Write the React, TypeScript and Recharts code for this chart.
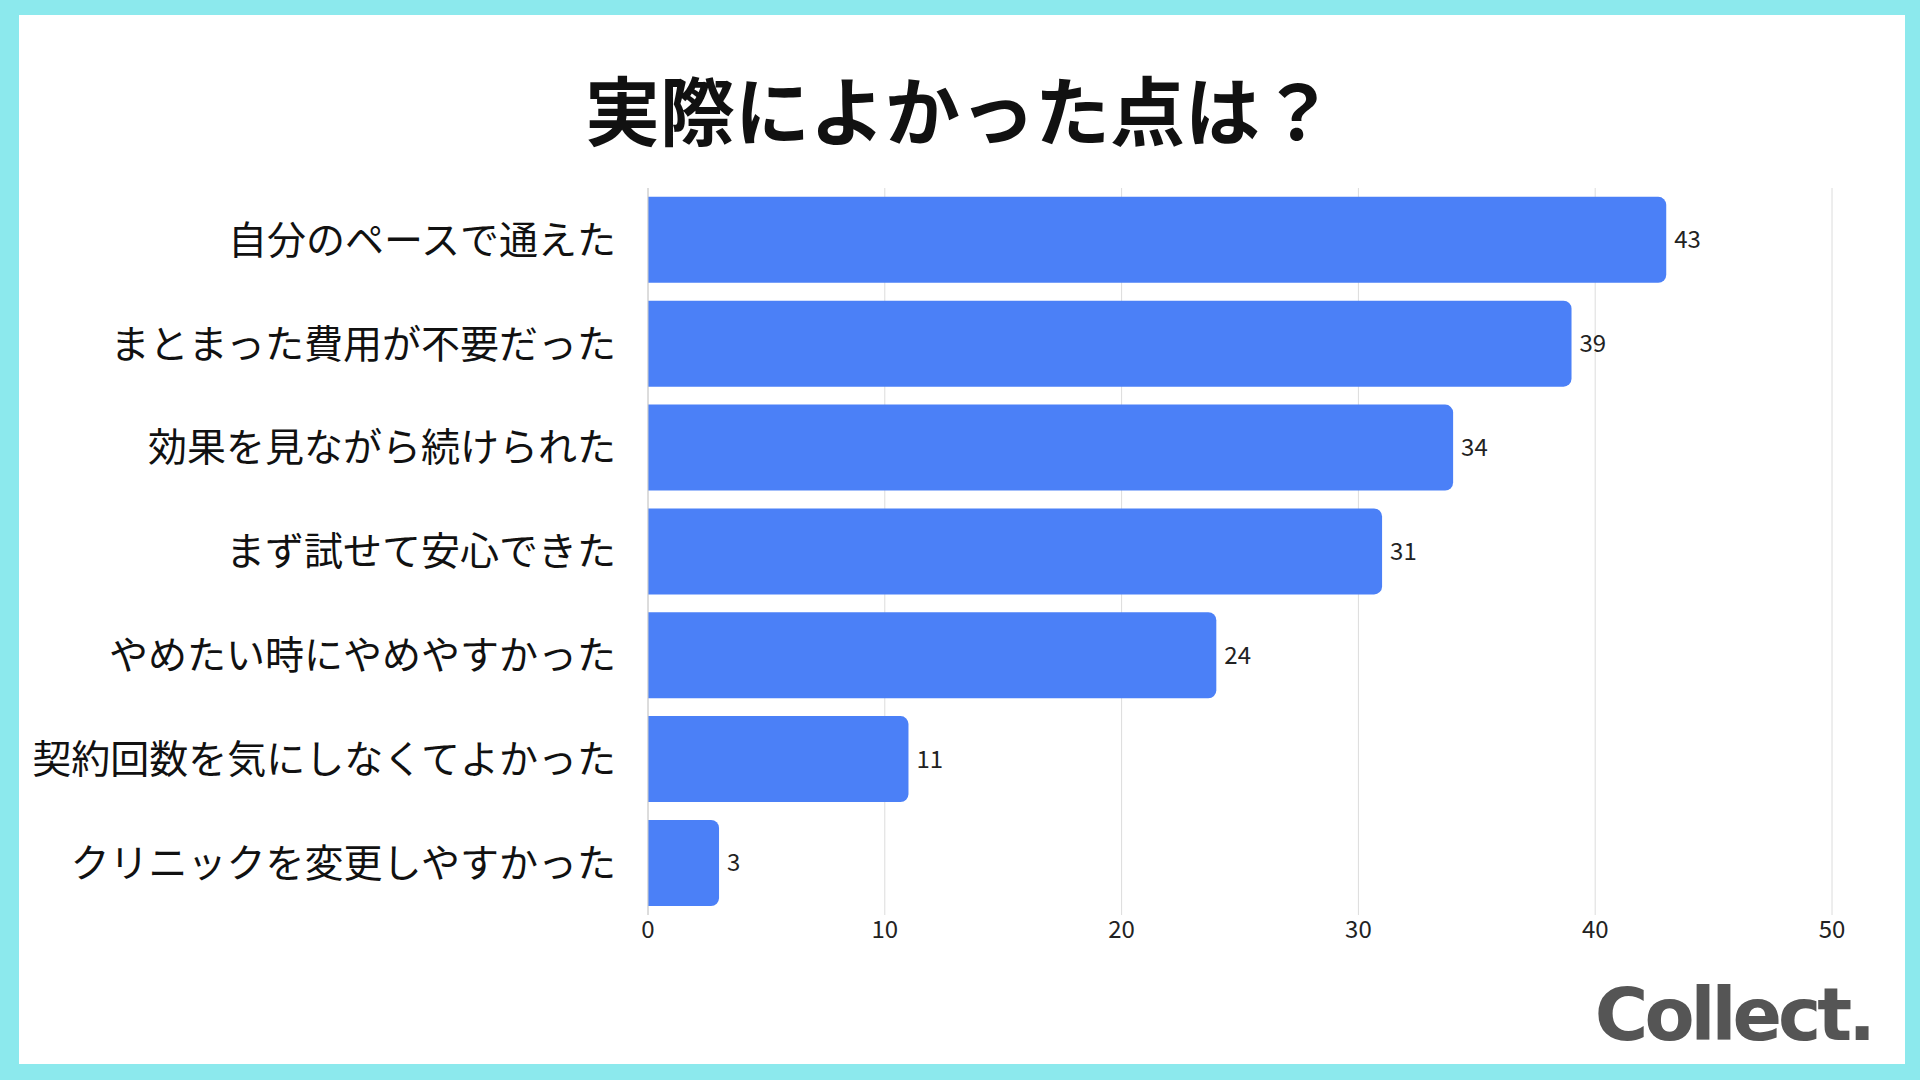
import { Bar, BarChart, CartesianGrid, LabelList, XAxis, YAxis } from "recharts";

const CYAN = "#8ce9ed";
const BLUE = "#4b80f7";
const FONT = '"Noto Sans CJK JP", "Noto Sans", sans-serif';

const reasons = [
  "自分のペースで通えた",
  "まとまった費用が不要だった",
  "効果を見ながら続けられた",
  "まず試せて安心できた",
  "やめたい時にやめやすかった",
  "契約回数を気にしなくてよかった",
  "クリニックを変更しやすかった",
];
const counts = [43, 39, 34, 31, 24, 11, 3];
const xTicks = [0, 10, 20, 30, 40, 50];

const data = reasons.map((name, i) => ({ name, value: counts[i] }));

export default function App() {
  return (
    <div
      style={{
        position: "fixed",
        left: 0,
        top: 0,
        width: 1920,
        height: 1080,
        background: CYAN,
        fontFamily: FONT,
      }}
    >
      <div
        style={{
          position: "absolute",
          left: 19,
          top: 15,
          width: 1886,
          height: 1049,
          background: "#fff",
        }}
      />
      <div
        style={{
          position: "absolute",
          left: 0,
          top: 70,
          width: 1920,
          textAlign: "center",
          fontSize: 75,
          fontWeight: 700,
          lineHeight: 1,
          color: "#111",
        }}
      >
        実際によかった点は？
      </div>
      <div style={{ position: "absolute", left: 0, top: 0 }}>
        <BarChart
          width={1920}
          height={1080}
          data={data}
          layout="vertical"
          margin={{ top: 188, bottom: 135, left: 48, right: 88 }}
          barCategoryGap="8.5%"
        >
          <CartesianGrid horizontal={false} stroke="#dcdcdc" />
          <XAxis
            type="number"
            domain={[0, 50]}
            ticks={xTicks}
            height={30}
            axisLine={false}
            tickLine={false}
            tickSize={0}
            tickMargin={6}
            tick={{ fontSize: 24, fill: "#222", fontFamily: FONT }}
          />
          <YAxis
            type="category"
            dataKey="name"
            width={600}
            axisLine={{ stroke: "#cccccc" }}
            tickLine={false}
            tickSize={0}
            tickMargin={32}
            interval={0}
            tick={{ fontSize: 39, fill: "#111", fontFamily: FONT }}
          />
          <Bar dataKey="value" fill={BLUE} radius={[0, 8, 8, 0]} isAnimationActive={false}>
            <LabelList
              dataKey="value"
              position="right"
              offset={8}
              style={{ fontSize: 24, fill: "#222", fontFamily: FONT }}
            />
          </Bar>
        </BarChart>
      </div>
      <div
        style={{
          position: "absolute",
          right: 48,
          top: 978,
          fontFamily: '"DejaVu Sans", sans-serif',
          fontWeight: 700,
          fontSize: 73,
          letterSpacing: -4,
          lineHeight: 1,
          color: "#555",
        }}
      >
        Collect.
      </div>
    </div>
  );
}
